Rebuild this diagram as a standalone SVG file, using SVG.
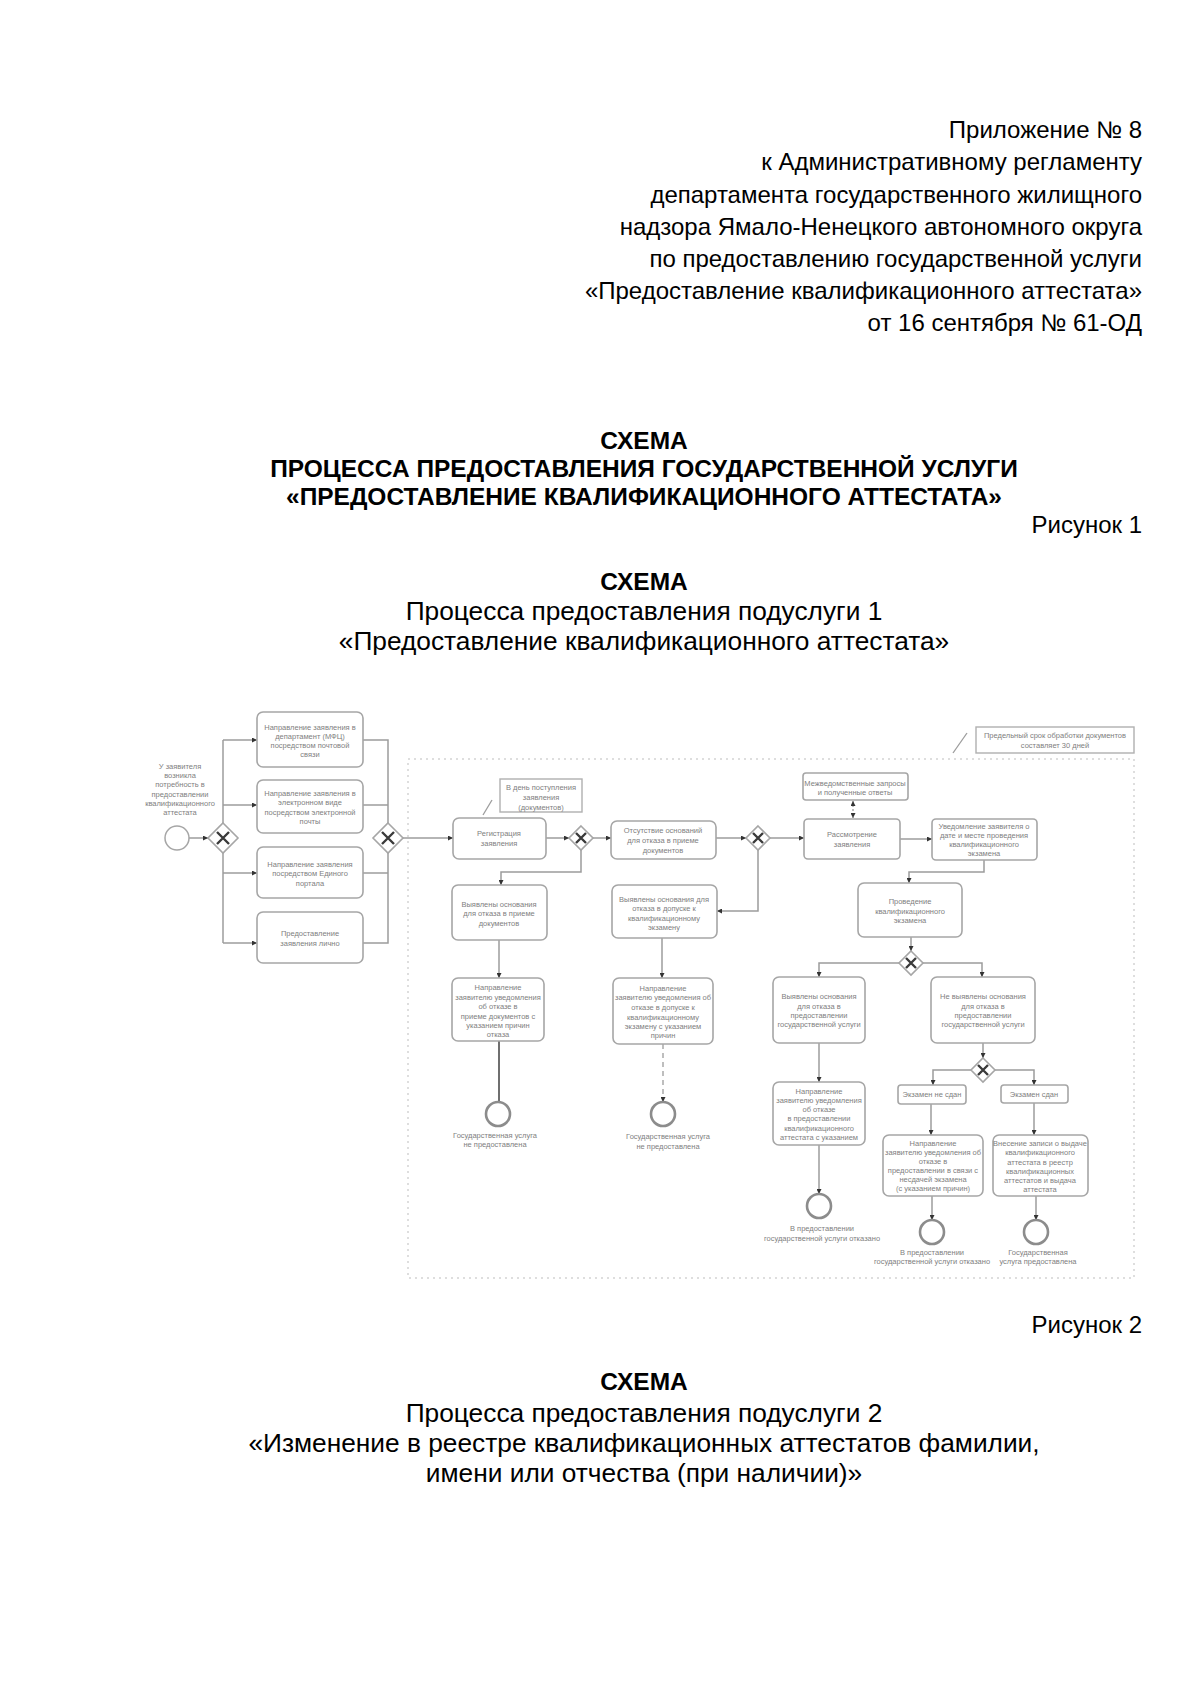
<svg xmlns="http://www.w3.org/2000/svg" width="1200" height="1696" viewBox="0 0 1200 1696">
<defs>
<style>
.hd{font-family:"Liberation Sans",Arial,sans-serif;font-size:24px;fill:#000}
.hr{text-anchor:end}
.hc{text-anchor:middle}
.hb{font-size:26.3px}
.b{font-weight:bold;font-size:24.5px}
.box{fill:#fff;stroke:#a6a6a6;stroke-width:1.6}
.ann{fill:#fff;stroke:#b0b0b0;stroke-width:1.4}
.t{font-family:"Liberation Sans",Arial,sans-serif;font-size:7.5px;fill:#808080;text-anchor:middle}
.f{fill:none;stroke:#9c9c9c;stroke-width:1.5}
.fa{fill:none;stroke:#9c9c9c;stroke-width:1.5;marker-end:url(#arr)}
.gw{fill:#fff;stroke:#a6a6a6;stroke-width:1.6}
.gx{stroke:#3a3a3a;stroke-width:2.4}
.ev{fill:#fff;stroke:#8c8c8c;stroke-width:2.6}
.st{fill:#fff;stroke:#a6a6a6;stroke-width:1.5}
</style>
<marker id="arr" viewBox="0 0 6 6" refX="6" refY="3" markerWidth="5" markerHeight="5" orient="auto" markerUnits="userSpaceOnUse">
<path d="M0,0 L6,3 L0,6 z" fill="#333"/>
</marker>
<marker id="arrs" viewBox="0 0 6 6" refX="0" refY="3" markerWidth="5" markerHeight="5" orient="auto" markerUnits="userSpaceOnUse">
<path d="M6,0 L0,3 L6,6 z" fill="#333"/>
</marker>
</defs>
<rect width="1200" height="1696" fill="#fff"/>

<g id="header">
<text class="hd hr" x="1142" y="138">Приложение № 8</text>
<text class="hd hr" x="1142" y="170">к Административному регламенту</text>
<text class="hd hr" x="1142" y="202.5">департамента государственного жилищного</text>
<text class="hd hr" x="1142" y="234.5">надзора Ямало-Ненецкого автономного округа</text>
<text class="hd hr" x="1142" y="266.5">по предоставлению государственной услуги</text>
<text class="hd hr" x="1142" y="299">«Предоставление квалификационного аттестата»</text>
<text class="hd hr" x="1142" y="331">от 16 сентября № 61-ОД</text>
<text class="hd hc b" x="644" y="449">СХЕМА</text>
<text class="hd hc b" x="644" y="477">ПРОЦЕССА ПРЕДОСТАВЛЕНИЯ ГОСУДАРСТВЕННОЙ УСЛУГИ</text>
<text class="hd hc b" x="644" y="505">«ПРЕДОСТАВЛЕНИЕ КВАЛИФИКАЦИОННОГО АТТЕСТАТА»</text>
<text class="hd hr" x="1142" y="533">Рисунок 1</text>
<text class="hd hc b" x="644" y="590">СХЕМА</text>
<text class="hd hc hb" x="644" y="620">Процесса предоставления подуслуги 1</text>
<text class="hd hc hb" x="644" y="650">«Предоставление квалификационного аттестата»</text>
<text class="hd hr" x="1142" y="1333">Рисунок 2</text>
<text class="hd hc b" x="644" y="1390">СХЕМА</text>
<text class="hd hc hb" x="644" y="1422">Процесса предоставления подуслуги 2</text>
<text class="hd hc hb" x="644" y="1452">«Изменение в реестре квалификационных аттестатов фамилии,</text>
<text class="hd hc hb" x="644" y="1482">имени или отчества (при наличии)»</text>
</g>

<g id="frame">
<rect x="408" y="759" width="726" height="519" fill="none" stroke="#bdbdbd" stroke-width="1" stroke-dasharray="2 4"/>
</g>

<g id="connectors">
<path class="fa" d="M189,838 H208"/>
<path class="f" d="M223,740 V943"/>
<path class="fa" d="M223,740 H257"/>
<path class="fa" d="M223,805 H257"/>
<path class="fa" d="M223,873 H257"/>
<path class="fa" d="M223,943 H257"/>
<path class="f" d="M363,740 H388 V943 H363"/>
<path class="f" d="M363,805 H388"/>
<path class="f" d="M363,873 H388"/>
<path class="fa" d="M403,838 H453"/>
<path class="fa" d="M546,838 H569"/>
<path class="fa" d="M593,838 H611"/>
<path class="fa" d="M581,850 V872 H501 V885"/>
<path class="fa" d="M716,838 H746"/>
<path class="fa" d="M770,838 H804"/>
<path class="fa" d="M758,850 V911 H717"/>
<path d="M853,801 V818" fill="none" stroke="#9c9c9c" stroke-width="1.3" stroke-dasharray="2 2" marker-start="url(#arrs)" marker-end="url(#arr)"/>
<path class="fa" d="M900,839 H932"/>
<path class="fa" d="M984,860 V872 H909 V883"/>
<path class="fa" d="M911,937 V951"/>
<path class="fa" d="M899,963 H819 V977"/>
<path class="fa" d="M923,963 H982 V977"/>
<path class="fa" d="M819,1043 V1082"/>
<path class="fa" d="M819,1145 V1194"/>
<path class="fa" d="M983,1043 V1058"/>
<path class="fa" d="M971,1070 H933 V1085"/>
<path class="fa" d="M995,1070 H1034 V1085"/>
<path class="fa" d="M931,1104 V1135"/>
<path class="fa" d="M1034,1103 V1135"/>
<path class="fa" d="M932,1196 V1220"/>
<path class="fa" d="M1036,1196 V1220"/>
<path class="fa" d="M499,940 V978"/>
<path d="M499,1041 V1102" fill="none" stroke="#6f6f6f" stroke-width="2"/>
<path class="fa" d="M662,938 V978"/>
<path d="M663,1044 V1102" fill="none" stroke="#9c9c9c" stroke-width="1.3" stroke-dasharray="5 4" marker-end="url(#arr)"/>
<path d="M492,800 L483,815" fill="none" stroke="#9c9c9c" stroke-width="1.3"/>
<path d="M967,733 L953,753" fill="none" stroke="#9c9c9c" stroke-width="1.3"/>
</g>

<g id="start">
<circle class="st" cx="177" cy="838" r="12"/>
<text class="t" x="180" y="769">У заявителя</text>
<text class="t" x="180" y="778">возникла</text>
<text class="t" x="180" y="787">потребность в</text>
<text class="t" x="180" y="797">предоставлении</text>
<text class="t" x="180" y="806">квалификационного</text>
<text class="t" x="180" y="815">аттестата</text>
</g>

<g id="gw1"><path class="gw" d="M223,823 L238,838 L223,853 L208,838 z"/><path class="gx" d="M217,832 L229,844 M229,832 L217,844"/></g>
<g id="gw2"><path class="gw" d="M388,823 L403,838 L388,853 L373,838 z"/><path class="gx" d="M382,832 L394,844 M394,832 L382,844"/></g>
<g id="gw3"><path class="gw" d="M581,826 L593,838 L581,850 L569,838 z"/><path class="gx" d="M576,833 L586,843 M586,833 L576,843"/></g>
<g id="gw4"><path class="gw" d="M758,826 L770,838 L758,850 L746,838 z"/><path class="gx" d="M753,833 L763,843 M763,833 L753,843"/></g>
<g id="gw5"><path class="gw" d="M911,951 L923,963 L911,975 L899,963 z"/><path class="gx" d="M906,958 L916,968 M916,958 L906,968"/></g>
<g id="gw6"><path class="gw" d="M983,1058 L995,1070 L983,1082 L971,1070 z"/><path class="gx" d="M978,1065 L988,1075 M988,1065 L978,1075"/></g>

<g id="box1">
<rect class="box" x="257" y="712" width="106" height="55" rx="6"/>
<text class="t" x="310" y="730">Направление заявления в</text>
<text class="t" x="310" y="739">департамент (МФЦ)</text>
<text class="t" x="310" y="748">посредством почтовой</text>
<text class="t" x="310" y="757">связи</text>
</g>
<g id="box2">
<rect class="box" x="257" y="780" width="106" height="53" rx="6"/>
<text class="t" x="310" y="796">Направление заявления в</text>
<text class="t" x="310" y="805">электронном виде</text>
<text class="t" x="310" y="815">посредством электронной</text>
<text class="t" x="310" y="824">почты</text>
</g>
<g id="box3">
<rect class="box" x="257" y="847" width="106" height="51" rx="6"/>
<text class="t" x="310" y="867">Направление заявления</text>
<text class="t" x="310" y="876">посредством Единого</text>
<text class="t" x="310" y="886">портала</text>
</g>
<g id="box4">
<rect class="box" x="257" y="912" width="106" height="51" rx="6"/>
<text class="t" x="310" y="936">Предоставление</text>
<text class="t" x="310" y="946">заявления лично</text>
</g>

<g id="registration">
<rect class="box" x="453" y="818" width="93" height="41" rx="6"/>
<text class="t" x="499" y="836">Регистрация</text>
<text class="t" x="499" y="846">заявления</text>
</g>
<g id="annotation1">
<rect class="ann" x="500" y="779" width="82" height="33"/>
<text class="t" x="541" y="790">В день поступления</text>
<text class="t" x="541" y="800">заявления</text>
<text class="t" x="541" y="810">(документов)</text>
</g>
<g id="r1">
<rect class="box" x="611" y="821" width="105" height="38" rx="6"/>
<text class="t" x="663" y="833">Отсутствие оснований</text>
<text class="t" x="663" y="843">для отказа в приеме</text>
<text class="t" x="663" y="853">документов</text>
</g>
<g id="l2">
<rect class="box" x="452" y="885" width="95" height="55" rx="6"/>
<text class="t" x="499" y="907">Выявлены основания</text>
<text class="t" x="499" y="916">для отказа в приеме</text>
<text class="t" x="499" y="926">документов</text>
</g>
<g id="l3">
<rect class="box" x="452" y="978" width="92" height="63" rx="6"/>
<text class="t" x="498" y="990">Направление</text>
<text class="t" x="498" y="1000">заявителю уведомления</text>
<text class="t" x="498" y="1009">об отказе в</text>
<text class="t" x="498" y="1019">приеме документов с</text>
<text class="t" x="498" y="1028">указанием причин</text>
<text class="t" x="498" y="1037">отказа</text>
</g>
<g id="r2">
<rect class="box" x="612" y="885" width="105" height="53" rx="6"/>
<text class="t" x="664" y="902">Выявлены основания для</text>
<text class="t" x="664" y="911">отказа в допуске к</text>
<text class="t" x="664" y="921">квалификационному</text>
<text class="t" x="664" y="930">экзамену</text>
</g>
<g id="r3">
<rect class="box" x="613" y="978" width="100" height="66" rx="6"/>
<text class="t" x="663" y="991">Направление</text>
<text class="t" x="663" y="1000">заявителю уведомления об</text>
<text class="t" x="663" y="1010">отказе в допуске к</text>
<text class="t" x="663" y="1020">квалификационному</text>
<text class="t" x="663" y="1029">экзамену с указанием</text>
<text class="t" x="663" y="1038">причин</text>
</g>
<g id="requests">
<rect class="box" x="803" y="773" width="105" height="27" rx="3"/>
<text class="t" x="855" y="786">Межведомственные запросы</text>
<text class="t" x="855" y="795">и полученные ответы</text>
</g>
<g id="review">
<rect class="box" x="804" y="819" width="96" height="40" rx="4"/>
<text class="t" x="852" y="837">Рассмотрение</text>
<text class="t" x="852" y="847">заявления</text>
</g>
<g id="notice">
<rect class="box" x="932" y="819" width="105" height="41" rx="4"/>
<text class="t" x="984" y="829">Уведомление заявителя о</text>
<text class="t" x="984" y="838">дате и месте проведения</text>
<text class="t" x="984" y="847">квалификационного</text>
<text class="t" x="984" y="856">экзамена</text>
</g>
<g id="exam">
<rect class="box" x="858" y="883" width="104" height="54" rx="6"/>
<text class="t" x="910" y="904">Проведение</text>
<text class="t" x="910" y="914">квалификационного</text>
<text class="t" x="910" y="923">экзамена</text>
</g>
<g id="s1">
<rect class="box" x="773" y="977" width="92" height="66" rx="6"/>
<text class="t" x="819" y="999">Выявлены основания</text>
<text class="t" x="819" y="1009">для отказа в</text>
<text class="t" x="819" y="1018">предоставлении</text>
<text class="t" x="819" y="1027">государственной услуги</text>
</g>
<g id="s2">
<rect class="box" x="931" y="977" width="104" height="66" rx="6"/>
<text class="t" x="983" y="999">Не выявлены основания</text>
<text class="t" x="983" y="1009">для отказа в</text>
<text class="t" x="983" y="1018">предоставлении</text>
<text class="t" x="983" y="1027">государственной услуги</text>
</g>
<g id="s1b">
<rect class="box" x="773" y="1082" width="92" height="63" rx="6"/>
<text class="t" x="819" y="1094">Направление</text>
<text class="t" x="819" y="1103">заявителю уведомления</text>
<text class="t" x="819" y="1112">об отказе</text>
<text class="t" x="819" y="1121">в предоставлении</text>
<text class="t" x="819" y="1131">квалификационного</text>
<text class="t" x="819" y="1140">аттестата с указанием</text>
</g>
<g id="e1">
<rect class="box" x="898" y="1085" width="68" height="19" rx="3"/>
<text class="t" x="932" y="1097">Экзамен не сдан</text>
</g>
<g id="e2">
<rect class="box" x="1001" y="1085" width="67" height="18" rx="3"/>
<text class="t" x="1034" y="1097">Экзамен сдан</text>
</g>
<g id="f1">
<rect class="box" x="883" y="1135" width="100" height="61" rx="6"/>
<text class="t" x="933" y="1146">Направление</text>
<text class="t" x="933" y="1155">заявителю уведомления об</text>
<text class="t" x="933" y="1164">отказе в</text>
<text class="t" x="933" y="1173">предоставлении в связи с</text>
<text class="t" x="933" y="1182">несдачей экзамена</text>
<text class="t" x="933" y="1191">(с указанием причин)</text>
</g>
<g id="f2">
<rect class="box" x="993" y="1135" width="95" height="61" rx="6"/>
<text class="t" x="1040" y="1146">Внесение записи о выдаче</text>
<text class="t" x="1040" y="1155">квалификационного</text>
<text class="t" x="1040" y="1165">аттестата в реестр</text>
<text class="t" x="1040" y="1174">квалификационных</text>
<text class="t" x="1040" y="1183">аттестатов и выдача</text>
<text class="t" x="1040" y="1192">аттестата</text>
</g>
<g id="annotation2">
<rect class="ann" x="976" y="727" width="158" height="26"/>
<text class="t" x="1055" y="738">Предельный срок обработки документов</text>
<text class="t" x="1055" y="748">составляет 30 дней</text>
</g>

<g id="end1">
<circle class="ev" cx="498" cy="1114" r="12"/>
<text class="t" x="495" y="1138">Государственная услуга</text>
<text class="t" x="495" y="1147">не предоставлена</text>
</g>
<g id="end2">
<circle class="ev" cx="663" cy="1114" r="12"/>
<text class="t" x="668" y="1139">Государственная услуга</text>
<text class="t" x="668" y="1149">не предоставлена</text>
</g>
<g id="end3">
<circle class="ev" cx="819" cy="1206" r="12"/>
<text class="t" x="822" y="1231">В предоставлении</text>
<text class="t" x="822" y="1241">государственной услуги отказано</text>
</g>
<g id="end4">
<circle class="ev" cx="932" cy="1232" r="12"/>
<text class="t" x="932" y="1255">В предоставлении</text>
<text class="t" x="932" y="1264">государственной услуги отказано</text>
</g>
<g id="end5">
<circle class="ev" cx="1036" cy="1232" r="12"/>
<text class="t" x="1038" y="1255">Государственная</text>
<text class="t" x="1038" y="1264">услуга предоставлена</text>
</g>
</svg>
